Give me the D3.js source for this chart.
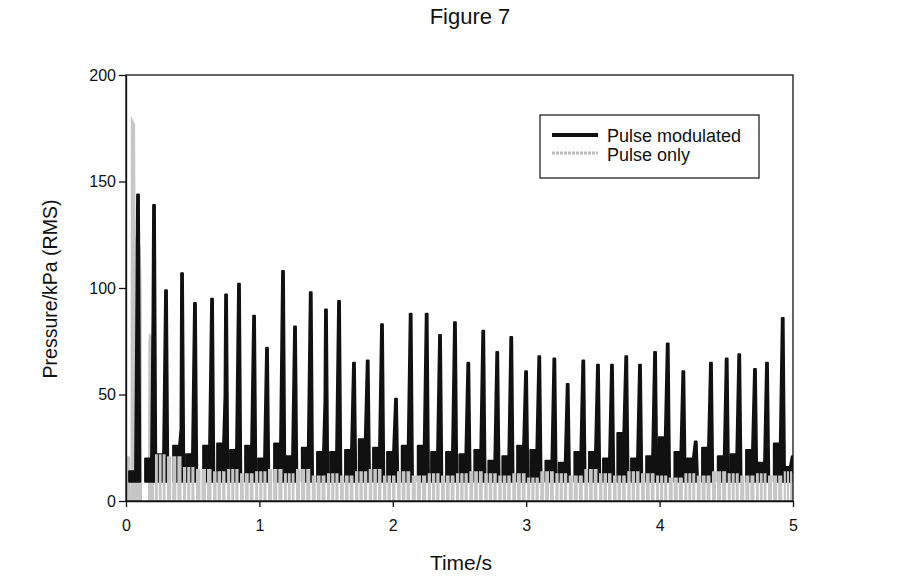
<!DOCTYPE html>
<html>
<head>
<meta charset="utf-8">
<script src="https://cdn.jsdelivr.net/npm/d3@7"></script>
<style>
  body { margin: 0; background: #fff; }
  text { font-family: "Liberation Sans", Arial, sans-serif; fill: #111; }
</style>
</head>
<body>
<div id="chart"></div>
<script>
var width = 912,
  height = 587;

// pulse modulated trace: one entry per spike
var spikeTimes = [0.090, 0.210, 0.300, 0.420, 0.517, 0.645, 0.750, 0.847, 0.960, 1.057,
  1.177, 1.267, 1.385, 1.499, 1.597, 1.709, 1.812, 1.919, 2.024, 2.134,
  2.254, 2.354, 2.466, 2.566, 2.678, 2.783, 2.888, 2.999, 3.098, 3.211,
  3.311, 3.428, 3.538, 3.643, 3.750, 3.853, 3.966, 4.061, 4.178, 4.271,
  4.385, 4.503, 4.597, 4.715, 4.805, 4.923, 4.998];
var spikePeaks = [144, 139, 99, 107, 93, 95, 97, 102, 87, 72,
  108, 82, 98, 90, 94, 65, 66, 83, 48, 88,
  88, 78, 84, 65, 80, 70, 77, 61, 68, 67,
  55, 66, 64, 64, 68, 64, 70, 74, 61, 28,
  65, 67, 69, 62, 65, 86, 21];
// level of the block just before each spike
var pedestals = [14, 20, 22, 26, 22, 26, 27, 24, 26, 20,
  27, 21, 25, 23, 23, 24, 29, 25, 23, 26,
  26, 23, 23, 22, 24, 19, 21, 26, 24, 19,
  18, 23, 23, 20, 32, 20, 21, 30, 23, 20,
  25, 21, 22, 24, 18, 27, 16];
// step on the rising edge (0 = none)
var shoulders = [100, 88, 0, 34, 0, 0, 50, 0, 0, 0,
  0, 0, 0, 47, 0, 0, 0, 0, 0, 0,
  0, 0, 0, 0, 0, 0, 0, 0, 0, 0,
  0, 0, 0, 0, 0, 0, 0, 0, 0, 0,
  0, 0, 0, 0, 0, 0, 0];
var blackFloor = 9;

// pulse only trace: start transient, then level in the gap after each spike
var greyStartT = [0.004, 0.006, 0.030, 0.034, 0.036, 0.068, 0.072, 0.110, 0.118, 0.121,
  0.164, 0.167, 0.174, 0.196, 0.200, 0.204, 0.212];
var greyStartV = [0, 21, 21, 0, 181, 177, 124, 120, 98, 0,
  0, 75, 79, 77, 60, 30, 0];
var greyLevels = [null, 22, 21, 16, 15, 14, 15, 13, 14, 15,
  13, 15, 12, 13, 12, 14, 15, 12, 14, 12,
  13, 12, 13, 14, 13, 12, 13, 11, 14, 13,
  12, 15, 13, 12, 14, 13, 12, 11, 13, 12,
  14, 13, 12, 13, 12, 14, 13];

var xTicks = [0, 1, 2, 3, 4, 5];
var yTicks = [0, 50, 100, 150, 200];

var svg = d3.select("#chart").append("svg")
  .attr("width", width)
  .attr("height", height);

var x = d3.scaleLinear().domain([0, 5]).range([126, 793]);
var y = d3.scaleLinear().domain([0, 200]).range([501, 75]);
var px = x.invert(127) - x.invert(126);   // one screen pixel, in seconds

svg.append("clipPath").attr("id", "plot")
  .append("rect")
  .attr("x", x(0)).attr("y", y(200))
  .attr("width", x(5) - x(0)).attr("height", y(0) - y(200));

var area = d3.area()
  .x(function(d) { return x(d[0]); })
  .y0(y(0))
  .y1(function(d) { return y(d[1]); });

var blackArea = d3.area()
  .x(function(d) { return x(d[0]); })
  .y0(y(blackFloor))
  .y1(function(d) { return y(d[1]); });

// grey start transient
var greyStart = greyStartT.map(function(t, i) { return [t, greyStartV[i]]; });

// grey comb after each spike
var greyPts = [];
spikeTimes.forEach(function(t, i) {
  if (greyLevels[i] == null) return;
  var a = t + px,
    b = (i + 1 < spikeTimes.length ? spikeTimes[i + 1] : 5) - 0.5 * px;
  var w = (b - a - 2 * px) / 3;
  for (var k = 0; k < 3; k++) {
    var s = a + k * (w + px), e = s + w;
    greyPts.push([s, 0], [s, greyLevels[i]], [e, greyLevels[i]], [e, 0]);
  }
});

// one black block + spike per pulse
var pulses = spikeTimes.map(function(t, i) {
  var p = [];
  p.push([t - 9 * px, pedestals[i]]);
  p.push([t - 3 * px, pedestals[i]]);
  if (shoulders[i]) p.push([t - 1.6 * px, shoulders[i]]);
  p.push([t - 1 * px, spikePeaks[i]]);
  p.push([t + 1 * px, spikePeaks[i]]);
  p.push([t + 2.4 * px, blackFloor]);
  return p;
});

var g = svg.append("g").attr("clip-path", "url(#plot)");

g.append("path")
  .datum(greyStart)
  .attr("fill", "#c6c6c6")
  .attr("d", area);

g.selectAll(".pulse")
  .data(pulses)
  .enter().append("path")
    .attr("class", "pulse")
    .attr("fill", "#111")
    .attr("stroke", "#111")
    .attr("stroke-width", 1.8)
    .attr("stroke-linejoin", "round")
    .attr("d", blackArea);

g.append("path")
  .datum(greyPts)
  .attr("fill", "#c6c6c6")
  .attr("d", area);

// axes
var xAxis = svg.append("g")
  .attr("transform", "translate(0," + y(0) + ")")
  .call(d3.axisBottom(x).tickValues(xTicks).tickFormat(d3.format("d"))
    .tickSize(6).tickSizeOuter(0).tickPadding(13));
var yAxis = svg.append("g")
  .attr("transform", "translate(" + x(0) + ",0)")
  .call(d3.axisLeft(y).tickValues(yTicks).tickSize(7).tickSizeOuter(0).tickPadding(3));

[xAxis, yAxis].forEach(function(a) {
  a.selectAll("text").style("font-size", "16px").attr("fill", "#111");
  a.selectAll("line").attr("stroke", "#111").attr("stroke-width", 1.3);
  a.select(".domain").attr("stroke", "#111").attr("stroke-width", 1.3);
});

// frame
svg.append("rect")
  .attr("x", x(0)).attr("y", y(200))
  .attr("width", x(5) - x(0)).attr("height", y(0) - y(200))
  .attr("fill", "none").attr("stroke", "#111").attr("stroke-width", 1.3);

// titles
svg.append("text")
  .attr("x", 470).attr("y", 24)
  .attr("text-anchor", "middle")
  .style("font-size", "22px")
  .text("Figure 7");

svg.append("text")
  .attr("x", 461).attr("y", 570)
  .attr("text-anchor", "middle")
  .style("font-size", "21px")
  .text("Time/s");

svg.append("text")
  .attr("transform", "translate(57,289) rotate(-90)")
  .attr("text-anchor", "middle")
  .style("font-size", "19.5px")
  .text("Pressure/kPa (RMS)");

// legend
var legend = svg.append("g");
legend.append("rect")
  .attr("x", 540).attr("y", 115).attr("width", 219).attr("height", 63)
  .attr("fill", "#fff").attr("stroke", "#111").attr("stroke-width", 1.2);
legend.append("line")
  .attr("x1", 552).attr("x2", 598).attr("y1", 135).attr("y2", 135)
  .attr("stroke", "#111").attr("stroke-width", 4);
legend.append("line")
  .attr("x1", 552).attr("x2", 598).attr("y1", 153).attr("y2", 153)
  .attr("stroke", "#bdbdbd").attr("stroke-width", 3)
  .attr("stroke-dasharray", "3,1");
legend.append("text")
  .attr("x", 607).attr("y", 142)
  .style("font-size", "18px")
  .text("Pulse modulated");
legend.append("text")
  .attr("x", 607).attr("y", 160.5)
  .style("font-size", "18px")
  .text("Pulse only");
</script>
</body>
</html>
